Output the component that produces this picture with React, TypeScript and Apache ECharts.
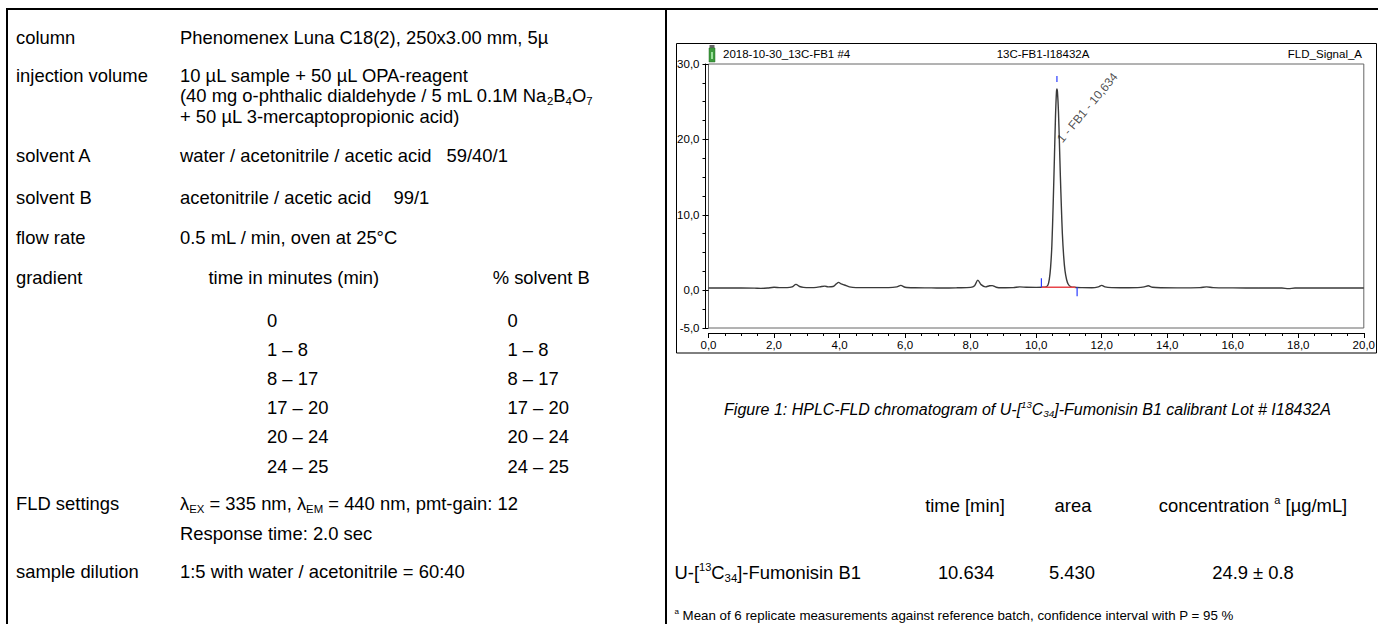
import React, { useEffect, useRef } from 'react';
import * as echarts from 'echarts';

// ---------- data ----------
const chromatogram: [number, number][] = [
  [0, 0.3], [0.5, 0.3], [1.0, 0.3], [1.4, 0.28], [1.6, 0.25], [1.8, 0.3], [2.0, 0.4], [2.2, 0.35],
  [2.4, 0.35], [2.55, 0.45], [2.67, 0.78], [2.78, 0.5], [2.9, 0.38], [3.1, 0.35], [3.3, 0.38],
  [3.45, 0.5], [3.55, 0.55], [3.65, 0.45], [3.8, 0.5], [3.9, 0.85], [3.97, 1.05], [4.05, 0.85],
  [4.15, 0.7], [4.3, 0.45], [4.5, 0.35], [5.0, 0.35], [5.5, 0.35], [5.75, 0.45], [5.87, 0.65],
  [6.0, 0.4], [6.3, 0.33], [6.8, 0.32], [7.2, 0.3], [7.6, 0.33], [8.0, 0.38], [8.12, 0.6],
  [8.22, 1.35], [8.32, 0.75], [8.45, 0.45], [8.58, 0.6], [8.66, 0.62], [8.78, 0.4], [8.95, 0.33],
  [9.3, 0.35], [9.5, 0.45], [9.7, 0.4], [10.0, 0.38], [10.2, 0.4], [10.3, 0.45], [10.36, 0.7],
  [10.4, 1.4], [10.44, 3.0], [10.48, 6.0], [10.52, 11.5], [10.56, 18.0], [10.59, 23.0],
  [10.62, 26.3], [10.634, 26.7], [10.65, 26.3], [10.68, 23.8], [10.71, 19.5], [10.74, 15.0],
  [10.77, 11.0], [10.8, 7.5], [10.84, 4.5], [10.88, 2.6], [10.93, 1.4], [10.98, 0.8], [11.05, 0.5],
  [11.15, 0.4], [11.4, 0.35], [11.7, 0.33], [11.9, 0.45], [12.0, 0.65], [12.1, 0.45], [12.3, 0.35],
  [12.7, 0.33], [13.1, 0.35], [13.3, 0.45], [13.42, 0.6], [13.55, 0.4], [13.8, 0.33], [14.3, 0.32],
  [15.0, 0.35], [15.2, 0.45], [15.4, 0.35], [16.0, 0.32], [16.8, 0.3], [17.5, 0.3], [17.7, 0.22],
  [17.9, 0.3], [18.5, 0.3], [19.2, 0.3], [19.7, 0.32], [20.0, 0.3],
];
const integrationBaseline: [number, number][] = [[10.16, 0.4], [11.2, 0.4]];
// [time, from, to]
const peakMarkers: [number, number, number][] = [[10.16, 0.4, 1.6], [10.634, 27.6, 28.4], [11.25, -0.8, 0.4]];
const peakLabel = '1 - FB1 - 10,634';
const peakLabelAnchor: [number, number] = [10.71, 19.8];
const yMajorTicks = [-5, 0, 10, 20, 30];
const chartTitleLeft = '2018-10-30_13C-FB1 #4';
const chartTitleCenter = '13C-FB1-I18432A';
const chartTitleRight = 'FLD_Signal_A';

const methodLabels = ['column', 'injection volume', 'solvent A', 'solvent B', 'flow rate', 'gradient', 'FLD settings', 'sample dilution'];
const methodValues: string[][] = [
  ['Phenomenex Luna C18(2), 250x3.00 mm, 5µ'],
  ['10 µL sample + 50 µL OPA-reagent', '(40 mg o-phthalic dialdehyde / 5 mL 0.1M Na{sub|2}B{sub|4}O{sub|7}', '+ 50 µL 3-mercaptopropionic acid)'],
  ['water / acetonitrile / acetic acid'],
  ['acetonitrile / acetic acid'],
  ['0.5 mL / min, oven at 25°C'],
  [],
  ['λ{sub|EX} = 335 nm, λ{sub|EM} = 440 nm, pmt-gain: 12', 'Response time: 2.0 sec'],
  ['1:5 with water / acetonitrile = 60:40'],
];
const solventRatios = ['59/40/1', '99/1'];
const gradientHeaders = ['time in minutes (min)', '% solvent B'];
const gradientTimes = ['0', '1 – 8', '8 – 17', '17 – 20', '20 – 24', '24 – 25'];
const gradientPercents = ['0', '1 – 8', '8 – 17', '17 – 20', '20 – 24', '24 – 25'];

const captionText = 'Figure 1: HPLC-FLD chromatogram of U-[{sup|13}C{sub|34}]-Fumonisin B1 calibrant Lot # I18432A';
const resultHeaders = ['time [min]', 'area', 'concentration {sup|a} [µg/mL]'];
const resultCompound = 'U-[{sup|13}C{sub|34}]-Fumonisin B1';
const resultValues = ['10.634', '5.430', '24.9 ± 0.8'];
const footnoteText = '{sup|a} Mean of 6 replicate measurements against reference batch, confidence interval with P = 95 %';

// ---------- layout ----------
const FONT = '"Liberation Sans", Arial, Helvetica, sans-serif';
const BODY = 18.4;
const labelRowY = [37.5, 75.5, 155.5, 197, 237.5, 277, 503.5, 571];
const valueLineY: number[][] = [[37.5], [75.5, 95.8, 116.3], [155.5], [197], [237.5], [], [503.5, 533.5], [571]];
const gradientRowY = [320, 349.5, 378.7, 407.7, 436.7, 466];
const fmt = (v: number) => v.toFixed(1).replace('.', ',');

function richStyles(size: number, italic = false) {
  const fs = italic ? 'italic' : 'normal';
  return {
    sub: { fontSize: size * 0.62, lineHeight: size * 0.8, verticalAlign: 'bottom', fontFamily: FONT, fontStyle: fs, fill: '#000' },
    sup: { fontSize: size * 0.6, lineHeight: size * 0.75, verticalAlign: 'top', fontFamily: FONT, fontStyle: fs, fill: '#000' },
  };
}

function txt(x: number, y: number, text: string, size = BODY, align = 'left', extra: any = {}) {
  return {
    type: 'text',
    x,
    y,
    silent: true,
    style: {
      text,
      fontSize: size,
      fontFamily: FONT,
      fill: '#000',
      align,
      verticalAlign: 'middle',
      lineHeight: Math.round(size * 1.2),
      rich: richStyles(size, extra.fontStyle === 'italic'),
      ...extra,
    },
  };
}

export default function App() {
  const ref = useRef<HTMLDivElement>(null);
  useEffect(() => {
    if (!ref.current) return;
    const chart = echarts.init(ref.current, null, { renderer: 'svg' });

    const graphics: any[] = [];
    // table borders
    graphics.push({ type: 'rect', silent: true, shape: { x: 6, y: 8, width: 1372, height: 2 }, style: { fill: '#000' } });
    graphics.push({ type: 'rect', silent: true, shape: { x: 6, y: 8, width: 2, height: 616 }, style: { fill: '#000' } });
    graphics.push({ type: 'rect', silent: true, shape: { x: 665, y: 8, width: 2, height: 616 }, style: { fill: '#000' } });

    // left column text
    methodLabels.forEach((l, i) => graphics.push(txt(16, labelRowY[i], l)));
    methodValues.forEach((lines, i) => lines.forEach((line, j) => graphics.push(txt(180, valueLineY[i][j], line))));
    graphics.push(txt(446.5, 155.5, solventRatios[0]));
    graphics.push(txt(393.5, 197, solventRatios[1]));
    graphics.push(txt(208.5, 277, gradientHeaders[0]));
    graphics.push(txt(492.7, 277, gradientHeaders[1]));
    gradientTimes.forEach((t, i) => graphics.push(txt(267, gradientRowY[i], t)));
    gradientPercents.forEach((t, i) => graphics.push(txt(507.5, gradientRowY[i], t)));

    // chart frame
    graphics.push({ type: 'rect', silent: true, shape: { x: 676.5, y: 43.5, width: 700, height: 309.5 }, style: { fill: 'none', stroke: '#000', lineWidth: 1 } });
    // vial icon
    graphics.push({ type: 'rect', silent: true, shape: { x: 709.5, y: 45, width: 5, height: 3 }, style: { fill: '#666' } });
    graphics.push({ type: 'rect', silent: true, shape: { x: 709, y: 48, width: 6, height: 14 }, style: { fill: '#3c9a3c', stroke: '#2a6e2a', lineWidth: 0.5 } });
    graphics.push({ type: 'rect', silent: true, shape: { x: 711, y: 52, width: 2, height: 7 }, style: { fill: '#9be09b' } });
    graphics.push(txt(723, 54, chartTitleLeft, 11.5));
    graphics.push(txt(1043, 54, chartTitleCenter, 11.5, 'center'));
    graphics.push(txt(1362, 54, chartTitleRight, 11.5, 'right'));

    // caption and results
    graphics.push(txt(1027.5, 409, captionText, 16, 'center', { fontStyle: 'italic' }));
    graphics.push(txt(965, 505, resultHeaders[0], BODY, 'center'));
    graphics.push(txt(1073, 505, resultHeaders[1], BODY, 'center'));
    graphics.push(txt(1253, 505, resultHeaders[2], BODY, 'center'));
    graphics.push(txt(674.5, 572, resultCompound, BODY, 'left'));
    graphics.push(txt(966, 572, resultValues[0], BODY, 'center'));
    graphics.push(txt(1072, 572, resultValues[1], BODY, 'center'));
    graphics.push(txt(1253, 572, resultValues[2], BODY, 'center'));
    graphics.push(txt(674.5, 615, footnoteText, 13.3, 'left'));

    const markerSeries = peakMarkers.map(([t, a, b]) => ({
      type: 'line',
      data: [[t, a], [t, b]],
      symbol: 'none',
      lineStyle: { color: '#2a3cff', width: 1.2 },
      z: 5,
      silent: true,
    }));

    chart.setOption({
      animation: false,
      textStyle: { fontFamily: FONT },
      grid: { left: 708.5, top: 64, width: 655.5, height: 264, show: true, borderColor: '#666', borderWidth: 1, backgroundColor: 'transparent', containLabel: false },
      xAxis: {
        type: 'value', min: 0, max: 20, interval: 2, position: 'bottom', offset: 5,
        axisLine: { show: true, onZero: false, lineStyle: { color: '#000', width: 1 } },
        axisTick: { show: true, length: 5, inside: false, lineStyle: { color: '#000' } },
        minorTick: { show: true, splitNumber: 4, length: 3, lineStyle: { color: '#000' } },
        axisLabel: { fontSize: 11.5, color: '#000', margin: 6, formatter: fmt, fontFamily: FONT },
        splitLine: { show: false },
      },
      yAxis: [
        {
          type: 'value', min: -5, max: 30, interval: 2.5, position: 'left', offset: 3,
          axisLine: { show: true, onZero: false, lineStyle: { color: '#000', width: 1 } },
          axisTick: { show: true, length: 3, lineStyle: { color: '#000' } },
          axisLabel: { show: false },
          splitLine: { show: false },
        },
        {
          type: 'value', min: -5, max: 30, interval: 5, position: 'left', offset: 3,
          axisLine: { show: false },
          axisTick: { show: true, length: 5, customValues: yMajorTicks, lineStyle: { color: '#000' } },
          axisLabel: { show: true, customValues: yMajorTicks, fontSize: 11.5, color: '#000', margin: 6, formatter: fmt, fontFamily: FONT },
          splitLine: { show: false },
        },
      ],
      series: [
        {
          type: 'line',
          data: chromatogram,
          symbol: 'none',
          smooth: 0.3,
          lineStyle: { color: '#3a3a3a', width: 1.4 },
          z: 3,
          silent: true,
        },
        {
          type: 'line',
          data: integrationBaseline,
          symbol: 'none',
          lineStyle: { color: '#e8454a', width: 1.3 },
          z: 4,
          silent: true,
        },
        ...markerSeries,
        {
          type: 'scatter',
          data: [peakLabelAnchor],
          symbolSize: 0.1,
          silent: true,
          z: 6,
          label: {
            show: true,
            position: 'right',
            distance: 0,
            rotate: 50,
            align: 'left',
            verticalAlign: 'middle',
            formatter: peakLabel,
            fontSize: 12,
            color: '#222',
            fontFamily: FONT,
          },
        },
      ],
      graphic: { elements: graphics },
    });
    return () => chart.dispose();
  }, []);
  return <div ref={ref} style={{ position: 'fixed', left: 0, top: 0, width: 1378, height: 624, background: '#fff' }} />;
}
